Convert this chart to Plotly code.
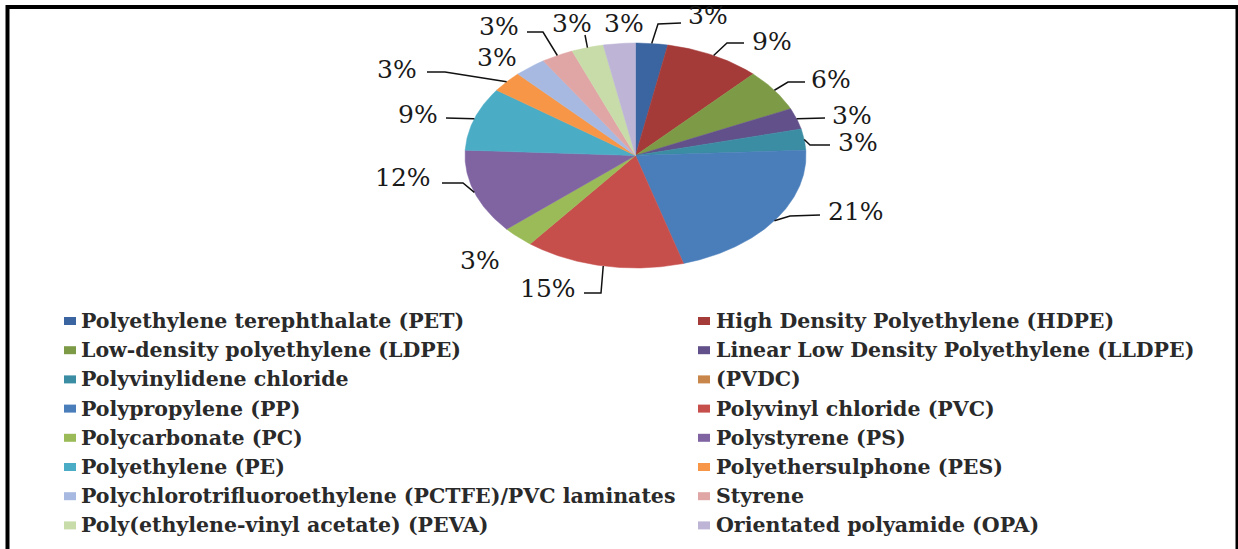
import math
import plotly.graph_objects as go

# ---- data ----
categories = [
    "Polyethylene terephthalate (PET)",
    "High Density Polyethylene (HDPE)",
    "Low-density polyethylene (LDPE)",
    "Linear Low Density Polyethylene (LLDPE)",
    "Polyvinylidene chloride",
    "(PVDC)",
    "Polypropylene (PP)",
    "Polyvinyl chloride (PVC)",
    "Polycarbonate (PC)",
    "Polystyrene (PS)",
    "Polyethylene (PE)",
    "Polyethersulphone (PES)",
    "Polychlorotrifluoroethylene (PCTFE)/PVC laminates",
    "Styrene",
    "Poly(ethylene-vinyl acetate) (PEVA)",
    "Orientated polyamide (OPA)",
]
percent = [3, 9, 6, 3, 3, 0, 21, 15, 3, 12, 9, 3, 3, 3, 3, 3]

colors = [
    "#3B65A0", "#A53B39", "#7D9B47", "#62508A", "#3A8DA3", "#C8864A",
    "#4A7EBB", "#C64F4C", "#9BBB59", "#8064A2", "#4BACC6", "#F79646",
    "#A7B9E0", "#E0A5A5", "#C8DCAA", "#BDB4D6",
]

# ---- layout geometry (pixel space) ----
W, H = 1238, 549
CX, CY, RX, RY = 635.5, 155.5, 170.5, 112.5

label_pos = {0: (708, 15), 1: (772, 41), 2: (831, 79), 3: (852, 115), 4: (858, 142),
             6: (856, 211), 7: (548, 288), 8: (480, 260), 9: (403, 177), 10: (418, 114),
             11: (397, 69), 12: (497, 57), 13: (499, 26), 14: (572, 23), 15: (624, 23)}
leader_pts = {0: [(658, 24), (681, 23)], 1: [(727, 43), (744, 43)], 2: [(788, 82), (805, 82)],
              3: [(825, 118)], 4: [(810, 145), (830, 145)], 6: [(790, 216), (820, 215)],
              7: [(601, 293), (584, 293)], 9: [(463, 183), (442, 183)], 10: [(446, 118)],
              11: [(445, 72), (427, 72)], 13: [(543, 32), (527, 32)], 14: [(585, 35)]}


def ell(theta):
    return CX + RX * math.sin(theta), CY - RY * math.cos(theta)


fig = go.Figure()
total = sum(percent)
cum = 0.0
mids = []
for i, v in enumerate(percent):
    a0 = cum / total * 2 * math.pi
    a1 = (cum + v) / total * 2 * math.pi
    mids.append((a0 + a1) / 2)
    cum += v
    if v <= 0:
        continue
    n = max(4, int(v * 6))
    xs, ys = [CX], [CY]
    for k in range(n + 1):
        px, py = ell(a0 + (a1 - a0) * k / n)
        xs.append(px)
        ys.append(py)
    xs.append(CX)
    ys.append(CY)
    fig.add_trace(go.Scatter(x=xs, y=ys, mode="lines", fill="toself", fillcolor=colors[i],
                             line=dict(color=colors[i], width=0.5), name=categories[i],
                             hoverinfo="text", text=f"{categories[i]}: {v}%", showlegend=False))

# leader lines
for i, pts in leader_pts.items():
    sx, sy = ell(mids[i])
    xs = [sx] + [p[0] for p in pts]
    ys = [sy] + [p[1] for p in pts]
    fig.add_trace(go.Scatter(x=xs, y=ys, mode="lines", line=dict(color="#111111", width=1.5),
                             hoverinfo="skip", showlegend=False))

annotations = []
for i, (tx, ty) in label_pos.items():
    annotations.append(dict(x=tx, y=ty, xref="x", yref="y", text=f"{percent[i]}%", showarrow=False,
                            xanchor="center", yanchor="middle",
                            font=dict(family="DejaVu Serif", size=25, color="#1a1a1a")))

shapes = []
row0, rowgap = 321, 29.2
for i, name in enumerate(categories):
    r, c = divmod(i, 2)
    y = row0 + rowgap * r
    mx = 64 if c == 0 else 698
    tx = 79 if c == 0 else 714
    shapes.append(dict(type="rect", xref="x", yref="y", x0=mx, x1=mx + 12, y0=y - 4, y1=y + 4,
                       fillcolor=colors[i], line=dict(width=0)))
    annotations.append(dict(x=tx, y=y, xref="x", yref="y", text=name, showarrow=False,
                            xanchor="left", yanchor="middle",
                            font=dict(family="DejaVu Serif", size=20.5, color="#2a2a2a", weight="bold")))

# outer frame
shapes.append(dict(type="rect", xref="x", yref="y", x0=7.5, x1=1237.5, y0=7, y1=570,
                   line=dict(color="black", width=4), fillcolor="rgba(0,0,0,0)", layer="above"))

fig.update_layout(
    width=W, height=H, margin=dict(l=0, r=0, t=0, b=0),
    paper_bgcolor="white", plot_bgcolor="white",
    xaxis=dict(range=[0, W], visible=False, fixedrange=True),
    yaxis=dict(range=[H, 0], visible=False, fixedrange=True),
    showlegend=False, annotations=annotations, shapes=shapes,
)

fig.write_html("out.html")
